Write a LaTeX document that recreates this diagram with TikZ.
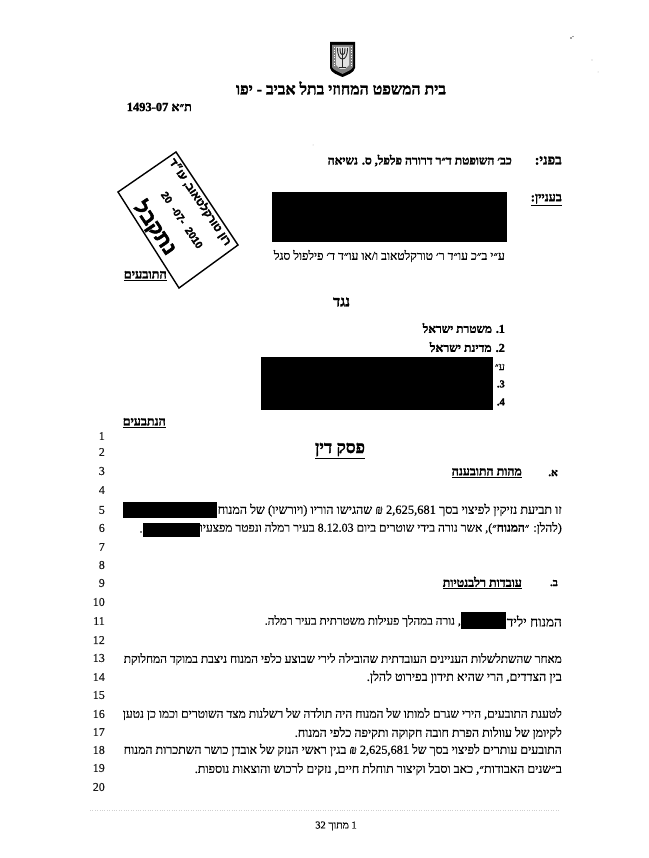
\documentclass[tikz,border=0pt]{standalone}
\usepackage{fontspec}
\usepackage{graphicx}
\setmainfont[Script=Hebrew,FakeBold=0.35,BoldFeatures={FakeBold=1.6}]{Liberation Serif}
\newfontfamily\stampfont[Script=Hebrew,BoldFeatures={FakeBold=2.4}]{Liberation Sans}
\TeXXeTstate=1
\newcommand{\RT}[1]{\beginR #1\endR}
\newcommand{\LT}[1]{\beginL #1\endL{}}
\newcommand{\ulb}[1]{\underline{\bfseries\RT{#1}}}
\newcommand{\fit}[2]{\resizebox{#1pt}{!}{#2}}
\tikzset{
 bodyline/.style={anchor=east,inner sep=0pt,font=\fontsize{10.5}{12}\selectfont,text=black},
 headline/.style={anchor=east,inner sep=0pt,font=\fontsize{10.5}{12}\selectfont\bfseries,text=black},
 numline/.style={anchor=east,inner sep=0pt,font=\fontsize{12}{14}\selectfont,text=black!90},
 redact/.style={fill=black,draw=none,inner sep=0pt,anchor=north west},
 stampline/.style={rotate=-56,inner sep=0pt,font=\stampfont\bfseries,text=black},
 speck/.style={fill=black!30,draw=none}
}
\begin{document}
\begin{tikzpicture}[x=1pt,y=-1pt]
\useasboundingbox (0,0) rectangle (648,858);
\fill[white] (0,0) rectangle (648,858);
% emblem
\fill[black] (330,42) -- (355,42) -- (355,68) .. controls (354,73) and (347,75) .. (342.5,77) .. controls (338,75) and (331,73) .. (330,68) -- cycle;
\fill[black!50] (332,45) -- (353,45) -- (353,67) .. controls (352,70) and (346,72) .. (342.5,74) .. controls (339,72) and (333,70) .. (332,67) -- cycle;
\fill[black!12] (336,47) -- (349,47) -- (349,65) -- (345,69) -- (340,69) -- (336,65) -- cycle;
\draw[black!85,line width=0.9pt] (342.5,48) -- (342.5,67) (339,67.5) -- (346,67.5)
 (337.5,48) .. controls (337.5,56) and (340,59) .. (342.5,59) .. controls (345,59) and (347.5,56) .. (347.5,48)
 (340,48) .. controls (340,53) and (341,55) .. (342.5,55) .. controls (344,55) and (345,53) .. (345,48);
\draw[white,line width=0.6pt,dotted] (334,47) -- (334,66) (351,47) -- (351,66);
% header
\node[anchor=center,inner sep=0pt,font=\fontsize{14}{16}\selectfont\bfseries] (title) at (341,88) {\fit{210}{\RT{בית המשפט המחוזי בתל אביב - יפו}}};
\node[headline,anchor=east] (casenum) at (192,107) {\fit{65}{\RT{ת״א \LT{1493-07}}}};
\node[headline] (before) at (562,160.5) {\fit{27}{\RT{בפני:}}};
\node[headline] (judge) at (512,160.5) {\fit{184}{\RT{כב׳ השופטת ד״ר דרורה פלפל, ס. נשיאה}}};
\node[headline] (inre) at (562,200) {\fit{31}{\ulb{בעניין:}}};
\node[redact,minimum width=235pt,minimum height=50pt] (r1) at (272,192) {};
\node[bodyline] (counsel) at (505,256) {\fit{231}{\RT{ע״י ב״כ עו״ד ר׳ טורקלטאוב ו/או עו״ד ד׳ פילפול סגל}}};
% stamp
\draw[line width=1.4pt,line join=miter] (118,192) coordinate (s1) -- (176,152) coordinate (s2) -- (238,245) coordinate (s3) -- (179,288) coordinate (s4) -- cycle;
\node[stampline,font=\stampfont\bfseries\fontsize{13}{15}\selectfont] (st1) at (200,202) {\fit{102}{\RT{רון טורקלטאוב, עו״ד}}};
\node[stampline] (st2) at (182,220) {\fit{66}{\fontsize{11}{13}\selectfont 20 \,\,-07-\,\, \textbf{2010}}};
\node[stampline] (st3) at (155,228) {\fit{60}{\fontsize{20}{22}\selectfont\RT{נתקבל}}};
\node[headline] (plaintiffs) at (167,276) {\fit{43}{\ulb{התובעים}}};
% parties
\node[anchor=center,inner sep=0pt,font=\fontsize{10.5}{12}\selectfont\bfseries] (against) at (341.5,302) {\fit{17}{\RT{נגד}}};
\node[headline] (d1) at (505,328) {\fit{82}{\RT{\LT{1}. משטרת ישראל}}};
\node[headline] (d2) at (505,347) {\fit{75}{\RT{\LT{2}. מדינת ישראל}}};
\node[bodyline] (d2b) at (505,367) {\RT{ע״}};
\node[headline] (d3) at (505,384) {\RT{\LT{3}.}};
\node[headline] (d4) at (505,402) {\RT{\LT{4}.}};
\node[redact,minimum width=232pt,minimum height=53pt] (r2) at (261,357) {};
\node[headline] (defendants) at (166,423) {\fit{43}{\ulb{הנתבעים}}};
% verdict
\node[anchor=center,inner sep=0pt,font=\fontsize{13}{15}\selectfont\bfseries] (verdict) at (340,451) {\fit{50}{\ulb{פסק דין}}};
\node[headline] (secA) at (558,473) {\RT{א.}};
\node[headline] (secAt) at (522,473) {\fit{70}{\ulb{מהות התובענה}}};
\node[redact,minimum width=94pt,minimum height=16pt] (r3) at (123,502) {};
\node[bodyline] (l5) at (562,510) {\fit{344}{\RT{זו תביעת נזיקין לפיצוי בסך \LT{2,625,681} ₪ שהגישו הוריו (ויורשיו) של המנוח}}};
\node[redact,minimum width=57pt,minimum height=14pt] (r4) at (143,523) {};
\node[bodyline] (l6) at (562,528) {\fit{362}{\RT{(להלן: ״\textbf{המנוח}״), אשר נורה בידי שוטרים ביום \LT{8.12.03} בעיר רמלה ונפטר מפצעיו}}};
\node[bodyline] (l6b) at (142.5,532) {.};
\node[headline] (secB) at (558,583) {\RT{ב.}};
\node[headline] (secBt) at (522,583) {\fit{79}{\ulb{עובדות רלבנטיות}}};
\node[bodyline] (l11a) at (562,621) {\fit{55}{\RT{המנוח יליד}}};
\node[redact,minimum width=45pt,minimum height=17pt] (r5) at (461,612) {};
\node[bodyline] (l11b) at (461,621) {\fit{196}{\RT{, נורה במהלך פעילות משטרתית בעיר רמלה.}}};
\node[bodyline] (l13) at (562,659) {\fit{438}{\RT{מאחר שהשתלשלות העניינים העובדתית שהובילה לירי שבוצע כלפי המנוח ניצבת במוקד המחלוקת}}};
\node[bodyline] (l14) at (562,677) {\fit{195}{\RT{בין הצדדים, הרי שהיא תידון בפירוט להלן.}}};
\node[bodyline] (l16) at (562,714) {\fit{439}{\RT{לטענת התובעים, הירי שגרם למותו של המנוח היה תולדה של רשלנות מצד השוטרים וכמו כן נטען}}};
\node[bodyline] (l17) at (562,733) {\fit{267}{\RT{לקיומן של עוולות הפרת חובה חקוקה ותקיפה כלפי המנוח.}}};
\node[bodyline] (l18) at (562,750) {\fit{438}{\RT{התובעים עותרים לפיצוי בסך של \LT{2,625,681} ₪ בגין ראשי הנזק של אובדן כושר השתכרות המנוח}}};
\node[bodyline] (l19) at (562,769) {\fit{367}{\RT{ב״שנים האבודות״, כאב וסבל וקיצור תוחלת חיים, נזקים לרכוש והוצאות נוספות.}}};
\node[bodyline,anchor=center] (foot) at (336,826) {\RT{\LT{1} מתוך \LT{32}}};
% line numbers
\foreach \n/\y in {1/436,2/452,3/471,4/490,5/510,6/528,7/547,8/565,9/583,10/602,11/621,12/640,13/658,14/677,15/695,16/714,17/732,18/750,19/768,20/787}
  \node[numline] (num\n) at (105,\y) {\n};
% scan specks
\fill[black!75] (571,38) circle (0.9pt) (573,36.5) circle (0.7pt);
\fill[speck] (592,60) circle (0.6pt) (598,72) circle (0.5pt) (313,145) circle (0.5pt);
\draw[black!18,line width=0.4pt,dotted] (90,810) -- (560,810);
\end{tikzpicture}
\end{document}
